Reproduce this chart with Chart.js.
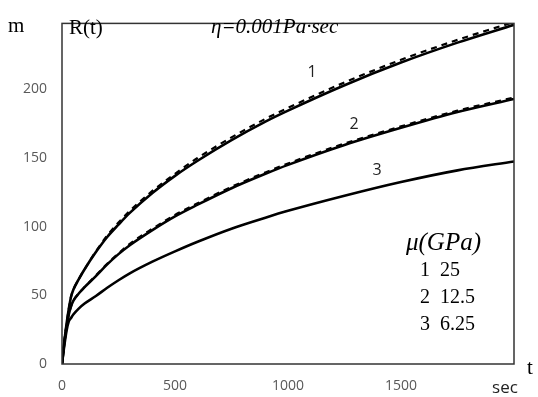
<!DOCTYPE html>
<html>
<head>
<meta charset="utf-8">
<script src="https://cdn.jsdelivr.net/npm/chart.js@4.4.1/dist/chart.umd.min.js"></script>
<style>
  html, body { margin: 0; padding: 0; background: #fff; }
  #wrap { width: 538px; height: 397px; }
</style>
</head>
<body>
<div id="wrap"><canvas id="chart"></canvas></div>
<script>
// time, sec
const times = [0, 10, 20, 30, 40, 50, 75, 100, 150, 200, 250, 300, 400, 500, 600, 750, 900, 1000, 1250, 1500, 1750, 2000];
// R(t), m  -- solid curves
const r1 = [0, 16, 29, 40, 49, 54, 62, 69, 81.5, 92.5, 101.5, 110, 124.5, 137, 148, 163, 176.5, 184.5, 203, 219.5, 234, 247];
const r2 = [0, 15, 27, 36, 42, 46, 51.5, 56, 64, 72.5, 80, 86.5, 97.5, 107.5, 116, 128, 138.5, 145, 159.5, 172, 183.5, 193];
const r3 = [0, 13, 24, 31, 33.5, 36, 40.5, 44, 49.5, 55.5, 61, 66, 74.5, 82, 89, 98.5, 106.5, 111.5, 122.5, 132.5, 141, 147.5];
// dashed curves (almost on top of 1 and 2)
const r1d = [0, 16, 29, 40, 49, 54, 62, 69, 82, 93.5, 103, 111.5, 126, 138.5, 150, 165, 178.5, 186.5, 205, 221.5, 236, 249];
const r2d = [0, 15, 27, 36, 42, 46, 51.5, 56, 64.5, 73, 80.5, 87.5, 98.5, 108.5, 117, 129, 139.5, 146, 160.5, 173, 184.5, 194];

const yTicks = [0, 50, 100, 150, 200];
const xTicks = [0, 500, 1000, 1500];

const muLabels = ['1  25', '2  12.5', '3  6.25'];

function pts(vals) {
    return times.map((t, i) => ({ x: t, y: vals[i] }));
}

function solid(vals) {
    return {
        data: pts(vals),
        borderColor: '#000',
        borderWidth: 2.6,
        pointRadius: 0,
        cubicInterpolationMode: 'monotone',
        fill: false
    };
}

function dashed(vals) {
    return {
        data: pts(vals),
        borderColor: '#000',
        borderWidth: 2.2,
        borderDash: [6, 5],
        pointRadius: 0,
        cubicInterpolationMode: 'monotone',
        fill: false
    };
}

const textPlugin = {
    id: 'texts',
    afterDraw(chart) {
        const ctx = chart.ctx;
        const a = chart.chartArea;
        ctx.save();
        // plot frame
        ctx.strokeStyle = '#333';
        ctx.lineWidth = 1.5;
        ctx.strokeRect(a.left, a.top, a.right - a.left, a.bottom - a.top);

        ctx.fillStyle = '#000';
        ctx.textBaseline = 'middle';
        ctx.textAlign = 'left';
        ctx.font = '21px "Liberation Serif"';
        ctx.fillText('m', 8, 26);
        ctx.fillText('R(t)', 69, 28);
        ctx.fillText('t', 527, 368);
        ctx.font = 'italic 21px "Liberation Serif"';
        ctx.fillText('\u03B7=0.001Pa\u00B7sec', 211, 27);

        ctx.font = 'italic 25px "Liberation Serif"';
        ctx.fillText('\u03BC(GPa)', 406, 243);
        ctx.font = '20px "Liberation Serif"';
        muLabels.forEach((s, i) => ctx.fillText(s, 420, 271 + i * 27));

        ctx.font = '16px "Open Sans"';
        ctx.fillStyle = '#222';
        ctx.textAlign = 'center';
        ctx.fillText('1', 312, 72);
        ctx.fillText('2', 354, 124);
        ctx.fillText('3', 377, 170);
        ctx.font = '17px "Open Sans"';
        ctx.fillText('sec', 505, 388);
        ctx.restore();
    }
};

const tickFont = { family: 'Open Sans', size: 14 };

new Chart(document.getElementById('chart'), {
    type: 'line',
    data: {
        datasets: [solid(r1), dashed(r1d), solid(r2), dashed(r2d), solid(r3)]
    },
    options: {
        responsive: true,
        maintainAspectRatio: false,
        animation: false,
        layout: { padding: { top: 9, right: 24, left: 0, bottom: 0 } },
        plugins: {
            legend: { display: false },
            tooltip: { enabled: false }
        },
        scales: {
            x: {
                type: 'linear',
                min: 0,
                max: 2000,
                afterBuildTicks: s => { s.ticks = xTicks.map(v => ({ value: v })); },
                afterFit: s => { s.height = 33; },
                grid: { display: false, drawTicks: false },
                border: { display: false },
                ticks: {
                    padding: 14,
                    color: '#595959',
                    font: tickFont,
                    callback: v => String(v)
                }
            },
            y: {
                min: 0,
                max: 248,
                afterBuildTicks: s => { s.ticks = yTicks.map(v => ({ value: v })); },
                afterFit: s => { s.width = 62; },
                grid: { display: false, drawTicks: false },
                border: { display: false },
                ticks: {
                    padding: 15,
                    color: '#595959',
                    font: tickFont,
                    callback: v => String(v)
                }
            }
        }
    },
    plugins: [textPlugin]
});
</script>
</body>
</html>
